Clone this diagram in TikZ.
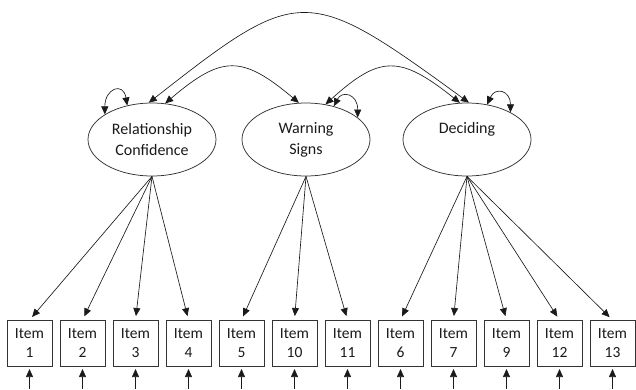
\documentclass[tikz,border=0pt]{standalone}
\usepackage{fontspec}
\setmainfont{Carlito}
\usepackage{xcolor}
\usepackage{tikz}
\usetikzlibrary{arrows.meta,positioning,shapes.geometric}
\definecolor{semInk}{HTML}{1A1A1A}
\definecolor{semLine}{HTML}{333333}
\newcommand{\itemfont}{\fontsize{15.5pt}{19.5pt}\selectfont}
\newcommand{\latfont}{\fontsize{16pt}{21pt}\selectfont}
\tikzset{
  % Latent factor (ellipse)
  latent/.style={ellipse,draw=semLine,line width=0.75pt,
    minimum width=128pt,minimum height=73pt,inner sep=0pt,
    align=center,font=\latfont,text=semInk},
  % Observed item box
  itembox/.style={rectangle,draw=semLine,line width=0.75pt,
    minimum width=45pt,minimum height=46pt,inner sep=0pt,outer sep=0pt,
    align=center,font=\itemfont,text=semInk},
  % Arrows
  arr/.style={-{Triangle[length=8pt,width=7pt]},line width=0.65pt,
    color=semInk,shorten >=4pt},
  cov/.style={{Triangle[length=8pt,width=7pt]}-{Triangle[length=8pt,width=7pt]},
    line width=0.65pt,color=semInk},
}

\begin{document}
\begin{tikzpicture}[x=1pt,y=-1pt]
  \useasboundingbox (0,0) rectangle (636,389);

  % Latent factors
  \node[latent] (rc) at (152,139.5) {Relationship\\Confidence};
  \node[latent] (ws) at (306,139.5) {Warning\\Signs};
  \node[latent] (dec) at (467,139.5) {Deciding\\\phantom{Signs}};

  % Item boxes (bottom row)
  \node[itembox] (it1) at (29.5,343) {Item\\1};
  \node[itembox,right=8pt of it1] (it2) {Item\\2};
  \node[itembox,right=8pt of it2] (it3) {Item\\3};
  \node[itembox,right=8pt of it3] (it4) {Item\\4};
  \node[itembox,right=8pt of it4] (it5) {Item\\5};
  \node[itembox,right=8pt of it5] (it10) {Item\\10};
  \node[itembox,right=8pt of it10] (it11) {Item\\11};
  \node[itembox,right=8pt of it11] (it6) {Item\\6};
  \node[itembox,right=8pt of it6] (it7) {Item\\7};
  \node[itembox,right=8pt of it7] (it9) {Item\\9};
  \node[itembox,right=8pt of it9] (it12) {Item\\12};
  \node[itembox,right=8pt of it12] (it13) {Item\\13};

  % Loadings
  \foreach \i in {1,2,3,4}
    \draw[arr] (rc.south) -- (it\i.north);
  \foreach \i in {5,10,11}
    \draw[arr] (ws.south) -- (it\i.north);
  \foreach \i in {6,7,9,12,13}
    \draw[arr] (dec.south) -- (it\i.north);

  % Error terms
  \foreach \i in {1,2,3,4,5,10,11,6,7,9,12,13} {
    \coordinate[below=23pt of it\i] (e\i);
    \draw[arr,shorten >=3pt] (e\i) -- (it\i.south);
  }

  % Factor covariances
  \draw[cov] (rc.95) .. controls (300,-16) and (306,-16) .. (dec.87);
  \draw[cov] (rc.70) .. controls (222,55) and (242,55) .. (ws.101);
  \draw[cov] (ws.61) .. controls (380,55) and (400,55) .. (dec.101);

  % Factor variances
  \draw[cov] (rc.152) .. controls +(0,-26) and +(-4,-24) .. (rc.126);
  \draw[cov] (ws.50) .. controls +(8,-16) and +(0,-24) .. (ws.23);
  \draw[cov] (dec.60) .. controls +(8,-18) and +(0,-22) .. (dec.32);
\end{tikzpicture}
\end{document}
